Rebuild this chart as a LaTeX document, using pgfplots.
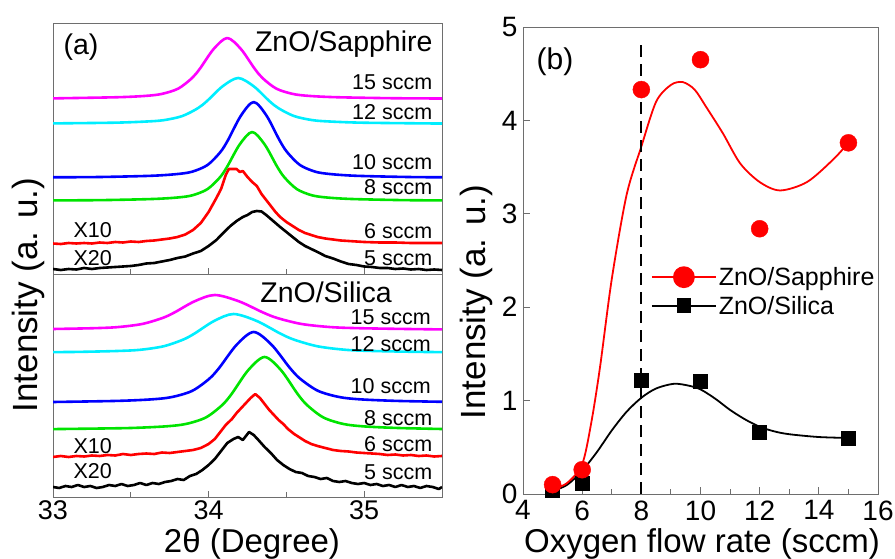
\documentclass[border=0pt]{standalone}
\usepackage{fontspec}
\setmainfont{Liberation Sans}
\usepackage{pgfplots}
\pgfplotsset{compat=1.18}
\definecolor{mag}{RGB}{255,0,255}
\definecolor{cya}{RGB}{0,238,255}
\definecolor{blu}{RGB}{0,0,255}
\definecolor{gre}{RGB}{0,228,0}
\definecolor{frm}{RGB}{110,110,110}
\pgfplotsset{
 leftpanel/.style={scale only axis, width=389pt, xmin=33, xmax=35.5, ymin=0,
   ytick=\empty, xtick={33,34,35}, minor xtick={33.5,34.5}, tick align=inside,
   xtick pos=bottom, major tick length=6pt, minor tick length=5pt,
   axis line style={frm, line width=1pt}, tick style={frm, line width=1pt},
   minor tick style={frm, line width=1pt},
   clip mode=individual,
   tick label style={font=\fontsize{27}{27}\selectfont},
   /pgf/number format/assume math mode=true},
 curve/.style={line width=2.6pt, line join=round},
}
\newcommand{\lbl}{\fontsize{21.5}{22}\selectfont}
\newcommand{\ttl}{\fontsize{28.5}{29}\selectfont}
\begin{document}
\begin{tikzpicture}
\useasboundingbox (0pt,0pt) rectangle (895pt,558pt);
% ---------------- upper left: ZnO/Sapphire ----------------
\begin{axis}[leftpanel, at={(53pt,284pt)}, anchor=south west, height=250pt, ymax=250, xticklabels=\empty]
\addplot[curve, mag, smooth] coordinates {(33.0,175.6) (33.07,175.8) (33.42,176.8) (33.595,178.1) (33.70,180.1) (33.805,185.4) (33.8925,195.8) (33.945,205.5) (34.0325,225.0) (34.12,236) (34.2075,225.0) (34.295,205.5) (34.3475,195.8) (34.435,185.4) (34.54,180.1) (34.645,178.1) (34.82,176.8) (35.17,175.8) (35.5,175.5)};
\addplot[curve, cya, smooth] coordinates {(33.0,150.6) (33.39,151.3) (33.59,152.4) (33.71,153.8) (33.83,157.9) (33.93,165.7) (33.99,173.0) (34.09,187.7) (34.19,196) (34.29,187.7) (34.39,173.0) (34.45,165.7) (34.55,157.9) (34.67,153.8) (34.79,152.4) (34.99,151.3) (35.39,150.6) (35.5,150.5)};
\addplot[curve, blu, smooth] coordinates {(33.0,96.7) (33.30,97.0) (33.63,98.2) (33.795,99.9) (33.894,102.3) (33.993,109.0) (34.0755,121.9) (34.125,134) (34.2075,158.3) (34.29,172) (34.3725,158.3) (34.455,134) (34.5045,121.9) (34.587,109.0) (34.686,102.3) (34.785,99.9) (34.95,98.2) (35.28,97.0) (35.5,96.7)};
\addplot[curve, gre, smooth] coordinates {(33.0,73.6) (33.32,73.9) (33.64,75.0) (33.80,76.5) (33.896,78.7) (33.992,84.8) (34.072,96.5) (34.12,107.5) (34.20,129.6) (34.28,142) (34.36,129.6) (34.44,107.5) (34.488,96.5) (34.568,84.8) (34.664,78.7) (34.76,76.5) (34.92,75.0) (35.24,73.9) (35.5,73.6)};
\addplot[curve, red] coordinates {(33.00,30.5) (33.05,30) (33.10,31) (33.15,30.5) (33.20,31) (33.25,30.5) (33.30,31.5) (33.35,31) (33.40,32) (33.45,31.5) (33.50,32.5) (33.55,32) (33.60,33) (33.65,33.5) (33.70,34.5) (33.75,35.5) (33.80,37) (33.85,39.5) (33.90,44) (33.95,51) (34.00,62) (34.05,76) (34.08,85) (34.11,99) (34.13,105) (34.16,105) (34.18,105) (34.20,102) (34.22,103) (34.25,97) (34.28,92) (34.31,88) (34.34,80) (34.37,74) (34.40,68) (34.43,62) (34.46,57) (34.50,52) (34.54,48) (34.58,44) (34.62,41) (34.66,39) (34.70,37) (34.75,35.5) (34.80,34.5) (34.85,33.5) (34.90,33) (34.95,32.5) (35.00,32) (35.10,31.5) (35.20,31.5) (35.30,31) (35.40,31) (35.50,31)};
\addplot[curve, black] coordinates {(33.00,5) (33.05,4) (33.10,5) (33.15,4.5) (33.20,6) (33.25,5) (33.30,6) (33.35,6.5) (33.40,7) (33.45,7.5) (33.50,8) (33.55,9) (33.60,10.5) (33.65,11) (33.70,12.5) (33.75,14) (33.80,16) (33.85,17.5) (33.90,20.5) (33.95,23) (34.00,28) (34.05,34) (34.10,42) (34.14,48) (34.18,53) (34.22,57) (34.25,59) (34.28,62) (34.31,63) (34.34,62.5) (34.37,59) (34.40,55) (34.43,51) (34.46,47) (34.50,42) (34.54,37) (34.58,32) (34.62,28) (34.66,25) (34.70,22) (34.75,18) (34.80,15.5) (34.85,12.5) (34.90,10) (34.95,9) (35.00,7.5) (35.05,7) (35.10,6) (35.15,6) (35.20,5) (35.25,5.5) (35.30,4.5) (35.35,5) (35.40,4) (35.45,4.5) (35.50,4)};
\node[anchor=base west, font=\ttl] at (axis cs:33.045,219) {(a)};
\node[anchor=base west, font=\ttl] at (axis cs:34.276,222) {ZnO/Sapphire};
\node[anchor=base east, font=\lbl] at (axis cs:35.46,184) {15 sccm};
\node[anchor=base east, font=\lbl] at (axis cs:35.46,154) {12 sccm};
\node[anchor=base east, font=\lbl] at (axis cs:35.46,104) {10 sccm};
\node[anchor=base east, font=\lbl] at (axis cs:35.46,79) {8 sccm};
\node[anchor=base east, font=\lbl] at (axis cs:35.46,36) {6 sccm};
\node[anchor=base east, font=\lbl] at (axis cs:35.46,9) {5 sccm};
\node[anchor=base west, font=\lbl] at (axis cs:33.11,37) {X10};
\node[anchor=base west, font=\lbl] at (axis cs:33.11,9) {X20};
\end{axis}
% ---------------- lower left: ZnO/Silica ----------------
\begin{axis}[leftpanel, at={(53pt,61pt)}, anchor=south west, height=223pt, ymax=223]
\addplot[curve, mag, smooth] coordinates {(33.0,168.0) (33.26,168.8) (33.416,169.9) (33.572,173.0) (33.702,178.9) (33.78,184.5) (33.91,195.7) (34.04,202) (34.195,195.7) (34.35,184.5) (34.443,178.9) (34.598,173.0) (34.784,169.9) (34.97,168.8) (35.28,168.0) (35.5,167.6)};
\addplot[curve, cya, smooth] coordinates {(33.0,144.9) (33.16,145.1) (33.41,146.0) (33.56,147.2) (33.71,150.7) (33.835,157.3) (33.91,163.5) (34.035,176.0) (34.16,183) (34.31,176.0) (34.46,163.5) (34.55,157.3) (34.70,150.7) (34.88,147.2) (35.06,146.0) (35.36,145.1) (35.5,144.9)};
\addplot[curve, blu, smooth] coordinates {(33.0,95.0) (33.41,96.1) (33.63,97.6) (33.762,99.9) (33.894,106.1) (34.004,118.2) (34.07,129.5) (34.18,152.2) (34.29,165) (34.405,152.2) (34.52,129.5) (34.589,118.2) (34.704,106.1) (34.842,99.9) (34.98,97.6) (35.21,96.1) (35.5,95.2)};
\addplot[curve, gre, smooth] coordinates {(33.0,67.9) (33.31,68.5) (33.52,69.1) (33.73,70.7) (33.856,73.1) (33.982,79.5) (34.087,91.9) (34.15,103.5) (34.255,126.9) (34.36,140) (34.465,126.9) (34.57,103.5) (34.633,91.9) (34.738,79.5) (34.864,73.1) (34.99,70.7) (35.2,69.1) (35.5,68.0)};
\addplot[curve, red] coordinates {(33.00,40) (33.05,41) (33.10,40) (33.15,41) (33.20,40.5) (33.25,41.5) (33.30,41) (33.35,42) (33.40,41.5) (33.45,43) (33.50,42) (33.55,43) (33.60,43.5) (33.65,43) (33.70,44.5) (33.75,44) (33.80,45) (33.85,46) (33.90,47) (33.95,49) (34.00,53) (34.04,58) (34.08,66) (34.11,72) (34.15,78) (34.18,84) (34.21,89) (34.24,94) (34.27,99) (34.30,103) (34.33,99) (34.36,93) (34.39,87) (34.42,82) (34.45,77) (34.48,73) (34.51,68) (34.55,63) (34.58,60) (34.62,56) (34.66,53) (34.70,51) (34.75,49) (34.80,47) (34.85,46) (34.90,45.5) (34.95,44.5) (35.00,44) (35.05,43.5) (35.10,43) (35.15,42) (35.20,42.5) (35.25,41.5) (35.30,42) (35.35,41) (35.40,41.5) (35.45,40.5) (35.50,41)};
\addplot[curve, black] coordinates {(33.00,10) (33.04,9) (33.08,11) (33.12,10) (33.16,12) (33.20,10) (33.24,11) (33.28,9) (33.32,10) (33.36,12) (33.40,11) (33.44,13) (33.48,11) (33.52,12) (33.56,14) (33.60,12) (33.64,14) (33.68,13) (33.72,15) (33.76,16) (33.80,18) (33.84,17) (33.88,21) (33.92,23) (33.96,27) (34.00,32) (34.04,38) (34.08,46) (34.12,54) (34.16,58) (34.19,60) (34.22,57) (34.26,65) (34.29,62) (34.32,57) (34.36,50) (34.40,44) (34.44,37) (34.48,32) (34.52,28) (34.56,25) (34.60,24) (34.64,21) (34.68,20) (34.72,18) (34.76,19) (34.80,16) (34.84,15) (34.88,16) (34.92,14) (34.96,13) (35.00,14) (35.04,12) (35.08,13) (35.12,11) (35.16,12) (35.20,10) (35.24,12) (35.28,10) (35.32,11) (35.36,9) (35.40,11) (35.44,10) (35.48,8) (35.50,10)};
\node[anchor=base west, font=\ttl] at (axis cs:34.31,195) {ZnO/Silica};
\node[anchor=base east, font=\lbl] at (axis cs:35.45,173) {15 sccm};
\node[anchor=base east, font=\lbl] at (axis cs:35.45,146) {12 sccm};
\node[anchor=base east, font=\lbl] at (axis cs:35.45,104) {10 sccm};
\node[anchor=base east, font=\lbl] at (axis cs:35.46,72) {8 sccm};
\node[anchor=base east, font=\lbl] at (axis cs:35.46,46) {6 sccm};
\node[anchor=base east, font=\lbl] at (axis cs:35.46,18) {5 sccm};
\node[anchor=base west, font=\lbl] at (axis cs:33.11,44) {X10};
\node[anchor=base west, font=\lbl] at (axis cs:33.11,19) {X20};
\end{axis}
% ---------------- right: intensity vs flow ----------------
\begin{axis}[at={(523pt,64pt)}, anchor=south west, scale only axis, width=355pt, height=467pt,
  xmin=4, xmax=16, ymin=0, ymax=5, xtick={4,6,...,16}, minor x tick num=1,
  ytick={0,1,2,3,4,5}, xtick pos=bottom, ytick pos=left, tick align=inside,
  major tick length=7pt, minor tick length=5pt,
  axis line style={frm, line width=1pt}, tick style={frm, line width=1pt},
  minor tick style={frm, line width=1pt},
  tick label style={font=\fontsize{28}{28}\selectfont},
  xticklabel style={yshift=-3pt},
  yticklabel style={xshift=-2pt},
  /pgf/number format/assume math mode=true,
  clip mode=individual,
  legend style={at={(axis description cs:0.36,0.49)}, anchor=north west, draw=none, fill=none,
    font=\fontsize{25}{25}\selectfont, row sep=5pt, inner sep=0pt},
  legend cell align=left,
  legend image code/.code={\draw[mark repeat=2,mark phase=2,#1] plot coordinates {(0pt,0pt) (32pt,0pt) (64pt,0pt)};}]
\addplot[forget plot, black, line width=1.8pt, smooth] coordinates {(5,0.03) (5.5,0.1) (6,0.25) (6.5,0.45) (7,0.68) (7.5,0.88) (8,1.03) (8.5,1.13) (9.1,1.18) (9.6,1.16) (10,1.12) (10.5,1.02) (11,0.9) (11.5,0.8) (12,0.72) (12.5,0.67) (13,0.64) (14,0.61) (15,0.6)};
\addplot[forget plot, red, line width=1.8pt, smooth] coordinates {(5,0.05) (5.5,0.12) (6,0.32) (6.3,0.75) (6.6,1.35) (7,2.3) (7.5,3.2) (8,3.72) (8.5,4.2) (9,4.38) (9.4,4.41) (9.8,4.33) (10.2,4.14) (10.76,3.86) (11.34,3.54) (12,3.34) (12.69,3.25) (13.6,3.34) (14.48,3.58) (15,3.76)};
\addplot[forget plot, black, line width=2pt, dash pattern=on 12pt off 7pt] coordinates {(8,0) (8,4.88)};
\addplot[forget plot, only marks, black, mark=square*, mark size=7pt] coordinates {(5,0.04) (6,0.12) (8,1.22) (10,1.21) (12,0.66) (15,0.6)};
\addplot[forget plot, only marks, red, mark=*, mark size=8.5pt] coordinates {(5,0.1) (6,0.26) (8,4.33) (10,4.65) (12,2.84) (15,3.76)};
\addlegendimage{red, line width=1.8pt, mark=*, mark size=10pt, mark options={solid}}
\addlegendentry{ZnO/Sapphire}
\addlegendimage{black, line width=1.8pt, mark=square*, mark size=6.5pt}
\addlegendentry{ZnO/Silica}
\node[anchor=base west, font=\fontsize{30}{30}\selectfont] at (axis cs:4.34,4.54) {(b)};
\end{axis}
% ---------------- axis titles ----------------
\node[rotate=90, anchor=base, font=\fontsize{35}{35}\selectfont] at (37pt,263pt) {Intensity (a. u.)};
\node[rotate=90, anchor=base, font=\fontsize{35}{35}\selectfont] at (485pt,256pt) {Intensity (a. u.)};
\node[anchor=base, font=\fontsize{33}{33}\selectfont] at (252pt,6pt) {2θ (Degree)};
\node[anchor=base, font=\fontsize{33}{33}\selectfont] at (702pt,6pt) {Oxygen flow rate (sccm)};
\end{tikzpicture}
\end{document}
